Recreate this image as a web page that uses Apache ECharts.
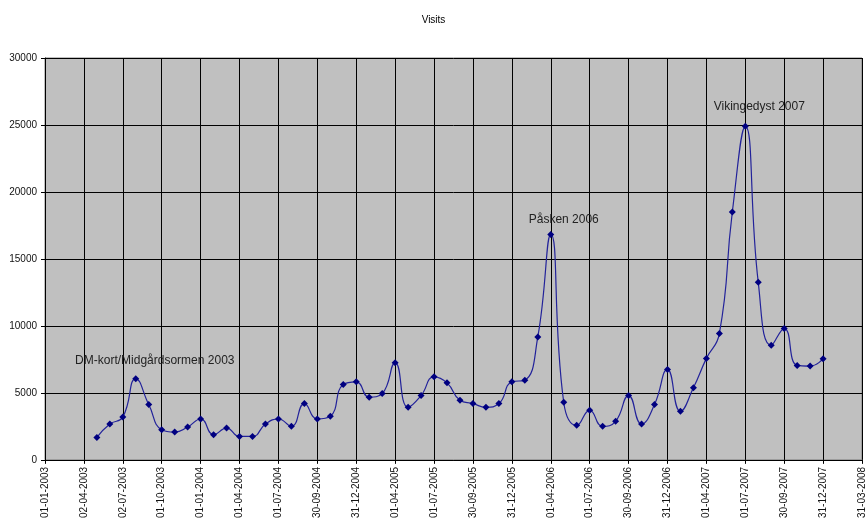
<!DOCTYPE html>
<html><head><meta charset="utf-8">
<script src="https://cdn.jsdelivr.net/npm/echarts@6/dist/echarts.min.js"></script>
<style>html,body{margin:0;padding:0;background:#fff}#c{width:867px;height:521px}</style>
</head><body><div id="c"></div>
<script>
const tickLabels = ['01-01-2003','02-04-2003','02-07-2003','01-10-2003','01-01-2004','01-04-2004','01-07-2004','30-09-2004','31-12-2004','01-04-2005','01-07-2005','30-09-2005','31-12-2005','01-04-2006','01-07-2006','30-09-2006','31-12-2006','01-04-2007','01-07-2007','30-09-2007','31-12-2007','31-03-2008'];
const months = [
  '2003-05','2003-06','2003-07','2003-08','2003-09','2003-10','2003-11','2003-12',
  '2004-01','2004-02','2004-03','2004-04','2004-05','2004-06','2004-07','2004-08','2004-09','2004-10','2004-11','2004-12',
  '2005-01','2005-02','2005-03','2005-04','2005-05','2005-06','2005-07','2005-08','2005-09','2005-10','2005-11','2005-12',
  '2006-01','2006-02','2006-03','2006-04','2006-05','2006-06','2006-07','2006-08','2006-09','2006-10','2006-11','2006-12',
  '2007-01','2007-02','2007-03','2007-04','2007-05','2007-06','2007-07','2007-08','2007-09','2007-10','2007-11','2007-12',
  '2008-01'];
const visits = [
  1675,2675,3200,6050,4125,2250,2075,2450,
  3050,1875,2375,1750,1750,2675,3050,2500,4200,3050,3250,5625,
  5825,4675,4950,7250,3925,4800,6200,5750,4450,4200,3925,4200,
  5825,5950,9175,16830,4300,2575,3700,2500,2875,4800,2675,4125,
  6750,3625,5375,7575,9425,18500,24900,13250,8550,9800,7050,7000,
  7550];
const annotations = [
  {month:'2003-08', text:'DM-kort/Midgårdsormen 2003'},
  {month:'2006-04', text:'Påsken 2006'},
  {month:'2007-07', text:'Vikingedyst 2007'}
];
const labelOffsets = {'2003-08':[19,-7], '2006-04':[13,-3], '2007-07':[14,-8]};

function monthToX(m){
  const [y, mo] = m.split('-').map(Number);
  return ((y - 2003) * 12 + (mo - 1)) / 3;
}
const data = months.map((m, i) => {
  const item = {value: [monthToX(m), visits[i]]};
  const a = annotations.find(a => a.month === m);
  if (a) {
    item.label = {show: true, formatter: a.text, position: 'top', distance: 2,
      offset: labelOffsets[m], fontSize: 12, color: '#222', fontFamily: 'Liberation Sans, Arial, sans-serif'};
  }
  return item;
});

const chart = echarts.init(document.getElementById('c'), null, {renderer: 'canvas'});
chart.setOption({
  animation: false,
  backgroundColor: '#fff',
  title: {text: 'Visits', left: 'center', top: 10,
    textStyle: {fontSize: 10, fontWeight: 'normal', color: '#000', fontFamily: 'Liberation Sans, Arial, sans-serif'}},
  grid: {left: 45, right: 5, top: 58, bottom: 61, show: true, backgroundColor: '#c0c0c0', borderColor: '#808080', borderWidth: 1},
  xAxis: {
    type: 'value', min: 0, max: tickLabels.length - 1, interval: 1,
    axisLine: {show: true, onZero: false, lineStyle: {color: '#000', width: 1}},
    axisTick: {show: true, length: 4, lineStyle: {color: '#000'}},
    splitLine: {show: true, lineStyle: {color: '#000', width: 1}},
    axisLabel: {rotate: 90, margin: 7, fontSize: 10, color: '#111', fontFamily: 'Liberation Sans, Arial, sans-serif',
      formatter: v => tickLabels[Math.round(v)] || ''}
  },
  yAxis: {
    type: 'value', min: 0, max: 30000, interval: 5000,
    axisLine: {show: true, lineStyle: {color: '#000', width: 1}},
    axisTick: {show: true, length: 4, lineStyle: {color: '#000'}},
    splitLine: {show: true, lineStyle: {color: '#000', width: 1}},
    axisLabel: {margin: 8, fontSize: 10, color: '#111', fontFamily: 'Liberation Sans, Arial, sans-serif',
      formatter: v => String(v)}
  },
  series: [{
    type: 'line', data: data, smooth: 0.5,
    symbol: 'diamond', symbolSize: 7,
    lineStyle: {color: '#22229a', width: 1.2},
    itemStyle: {color: '#000080'},
    label: {show: false}
  }]
});
</script></body></html>
